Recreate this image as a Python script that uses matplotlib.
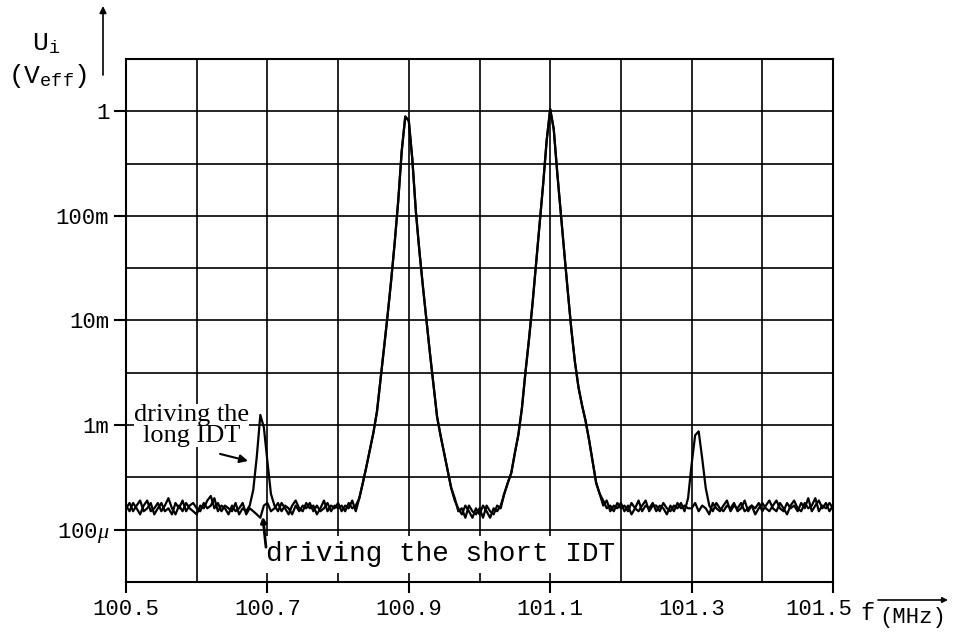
import numpy as np
import matplotlib
matplotlib.use('Agg')
import matplotlib.pyplot as plt
import matplotlib.transforms as mtransforms

plt.rcParams['mathtext.fontset'] = 'custom'
plt.rcParams['mathtext.rm'] = 'Liberation Mono'
plt.rcParams['mathtext.tt'] = 'Liberation Mono'
plt.rcParams['mathtext.it'] = 'Liberation Serif:italic'

# frequency sweep, 0.005 MHz steps
f = np.linspace(100.5, 101.5, 201)

# measured voltage in mV, driving the long IDT
u_long = [
    0.17, 0.15, 0.18, 0.16, 0.14, 0.17, 0.19, 0.15, 0.16, 0.18,
    0.15, 0.17, 0.20, 0.16, 0.14, 0.17, 0.15, 0.18, 0.16, 0.15,
    0.14, 0.17, 0.16, 0.19, 0.21, 0.16, 0.18, 0.15, 0.17, 0.16,
    0.15, 0.18, 0.14, 0.16, 0.15, 0.17, 0.24, 0.50, 1.25, 0.95,
    0.45, 0.22, 0.17, 0.15, 0.18, 0.16, 0.14, 0.17, 0.19, 0.16,
    0.15, 0.18, 0.16, 0.17, 0.14, 0.16, 0.19, 0.15, 0.17, 0.16,
    0.18, 0.15, 0.17, 0.16, 0.19, 0.15, 0.20, 0.28, 0.40, 0.58,
    0.85, 1.35, 2.7, 5.5, 11.2, 24, 55, 138, 417, 890,
    810, 347, 110, 46, 21, 10, 4.8, 2.4, 1.2, 0.79,
    0.54, 0.37, 0.25, 0.19, 0.16, 0.14, 0.17, 0.15, 0.13, 0.16,
    0.14, 0.17, 0.15, 0.13, 0.16, 0.15, 0.17, 0.22, 0.28, 0.35,
    0.54, 0.81, 1.45, 3.2, 6.6, 14.5, 35, 83, 200, 525,
    1050, 676, 257, 105, 44, 18.6, 8.1, 4.0, 2.3, 1.55,
    1.1, 0.72, 0.45, 0.28, 0.22, 0.17, 0.19, 0.15, 0.17, 0.16,
    0.18, 0.15, 0.17, 0.14, 0.16, 0.19, 0.15, 0.17, 0.16, 0.18,
    0.15, 0.17, 0.16, 0.14, 0.17, 0.15, 0.18, 0.16, 0.17, 0.16,
    0.16, 0.18, 0.15, 0.17, 0.16, 0.14, 0.18, 0.16, 0.15, 0.17,
    0.19, 0.15, 0.17, 0.16, 0.18, 0.15, 0.16, 0.17, 0.14, 0.16,
    0.18, 0.16, 0.15, 0.17, 0.19, 0.16, 0.15, 0.18, 0.16, 0.17,
    0.15, 0.18, 0.16, 0.20, 0.15, 0.17, 0.19, 0.16, 0.18, 0.15, 0.17,
]

# measured voltage in mV, driving the short IDT
u_short = [
    0.16, 0.18, 0.15, 0.17, 0.19, 0.15, 0.16, 0.18, 0.14, 0.16,
    0.18, 0.15, 0.16, 0.14, 0.18, 0.16, 0.19, 0.15, 0.17, 0.18,
    0.16, 0.15, 0.18, 0.16, 0.17, 0.20, 0.15, 0.17, 0.16, 0.14,
    0.17, 0.15, 0.16, 0.18, 0.14, 0.16, 0.15, 0.14, 0.13, 0.17,
    0.18, 0.15, 0.16, 0.18, 0.15, 0.17, 0.16, 0.14, 0.17, 0.15,
    0.17, 0.16, 0.18, 0.15, 0.17, 0.15, 0.16, 0.18, 0.15, 0.17,
    0.16, 0.17, 0.15, 0.18, 0.16, 0.17, 0.20, 0.28, 0.40, 0.58,
    0.85, 1.35, 2.7, 5.5, 11.2, 24, 55, 138, 417, 890,
    810, 347, 110, 46, 21, 10, 4.8, 2.4, 1.2, 0.79,
    0.54, 0.37, 0.25, 0.20, 0.15, 0.16, 0.13, 0.17, 0.15, 0.14,
    0.16, 0.13, 0.17, 0.15, 0.14, 0.17, 0.16, 0.22, 0.28, 0.35,
    0.54, 0.81, 1.45, 3.2, 6.6, 14.5, 35, 83, 200, 525,
    1050, 676, 257, 105, 44, 18.6, 8.1, 4.0, 2.3, 1.55,
    1.1, 0.72, 0.45, 0.28, 0.22, 0.19, 0.16, 0.17, 0.15, 0.18,
    0.16, 0.17, 0.15, 0.18, 0.16, 0.15, 0.17, 0.19, 0.15, 0.17,
    0.17, 0.15, 0.18, 0.16, 0.15, 0.17, 0.16, 0.18, 0.15, 0.20,
    0.42, 0.80, 0.87, 0.48, 0.25, 0.17, 0.15, 0.18, 0.16, 0.15,
    0.17, 0.16, 0.18, 0.15, 0.16, 0.19, 0.15, 0.17, 0.16, 0.18,
    0.15, 0.17, 0.19, 0.16, 0.15, 0.18, 0.16, 0.14, 0.17, 0.19,
    0.16, 0.15, 0.18, 0.16, 0.17, 0.20, 0.15, 0.17, 0.16, 0.18, 0.16,
]

x_ticks = [100.5, 100.7, 100.9, 101.1, 101.3, 101.5]
x_ticklabels = ['100.5', '100.7', '100.9', '101.1', '101.3', '101.5']
x_grid = [100.5, 100.6, 100.7, 100.8, 100.9, 101.0, 101.1, 101.2, 101.3, 101.4, 101.5]
y_ticks = [1e-4, 1e-3, 1e-2, 1e-1, 1]
y_ticklabels = ['100$\\mu$', '1m', '10m', '100m', '1']
y_grid = [3.16e-5, 1e-4, 3.16e-4, 1e-3, 3.16e-3, 1e-2, 3.16e-2, 1e-1, 3.16e-1, 1, 3.16]

mono = 'Liberation Mono'

fig = plt.figure(figsize=(9.59, 6.33), dpi=100)
ax = fig.add_axes([126/959, 1-582/633, 707/959, 523/633])

ax.plot(f, np.array(u_long)/1000, color='k', lw=1.6, zorder=4)
ax.plot(f, np.array(u_short)/1000, color='k', lw=1.6, zorder=4)

ax.set_yscale('log')
ax.set_xlim(100.5, 101.5)
ax.set_ylim(10**-4.5, 10**0.5)

ax.set_xticks(x_grid, minor=True)
ax.set_yticks(y_grid, minor=True)
ax.set_xticks(x_ticks)
ax.set_xticklabels(x_ticklabels, family=mono, fontsize=16)
ax.set_yticks(y_ticks)
ax.set_yticklabels(y_ticklabels, family=mono, fontsize=16)
ax.yaxis.set_minor_formatter(plt.NullFormatter())
ax.grid(which='both', color='k', lw=1.2)
ax.tick_params(which='minor', length=0)
ax.tick_params(axis='x', which='major', direction='out', length=8, width=1.5, pad=4)
ax.tick_params(axis='y', which='major', direction='out', length=9, width=1.5, pad=3)
for s in ax.spines.values():
    s.set_linewidth(1.5)

# last x label sits left of its tick in the original
last = ax.get_xticklabels()[-1]
last.set_transform(last.get_transform() + mtransforms.ScaledTranslation(-14/100, 0, fig.dpi_scale_trans))

# annotations
ax.text(100.5925, 1.0e-3, 'driving the\nlong IDT', family='Liberation Serif', fontsize=19,
        ha='center', va='center', linespacing=0.95, zorder=3,
        bbox=dict(fc='white', ec='none', pad=0))
ax.annotate('', xy=(100.6726, 4.54e-4), xytext=(100.633, 5.3e-4),
            arrowprops=dict(arrowstyle='-|>', color='k', lw=1.5, mutation_scale=12,
                            shrinkA=0, shrinkB=0))
ax.text(100.9445, 5.8e-5, 'driving the short IDT', family=mono, fontsize=20,
        ha='center', va='center', zorder=3,
        bbox=dict(fc='white', ec='none', pad=4))
ax.annotate('', xy=(100.6935, 1.33e-4), xytext=(100.698, 6.8e-5),
            arrowprops=dict(arrowstyle='-|>', color='k', lw=2.0, mutation_scale=8,
                            shrinkA=0, shrinkB=0), zorder=5)

# axis labels with arrows
fig.text(46/959, 1-44/633, 'U$_{\\mathtt{i}}$', family=mono, fontsize=19,
         ha='center', va='center')
fig.text(48/959, 1-76/633, '(V$_{\\mathtt{eff}}$)', family=mono, fontsize=19,
         ha='center', va='center')
ax.annotate('', xy=(103/959, 1-6/633), xytext=(103/959, 1-75/633),
            xycoords='figure fraction', textcoords='figure fraction',
            arrowprops=dict(arrowstyle='-|>', color='k', lw=1.2, mutation_scale=10,
                            shrinkA=0, shrinkB=0))
fig.text(867/959, 1-614/633, 'f', family=mono, fontsize=17, ha='center', va='center')
fig.text(913/959, 1-617/633, '(MHz)', family=mono, fontsize=16, ha='center', va='center')
ax.annotate('', xy=(948/959, 1-600/633), xytext=(878/959, 1-600/633),
            xycoords='figure fraction', textcoords='figure fraction',
            arrowprops=dict(arrowstyle='-|>', color='k', lw=1.2, mutation_scale=8,
                            shrinkA=0, shrinkB=0))

fig.savefig('out.png', dpi=100)
